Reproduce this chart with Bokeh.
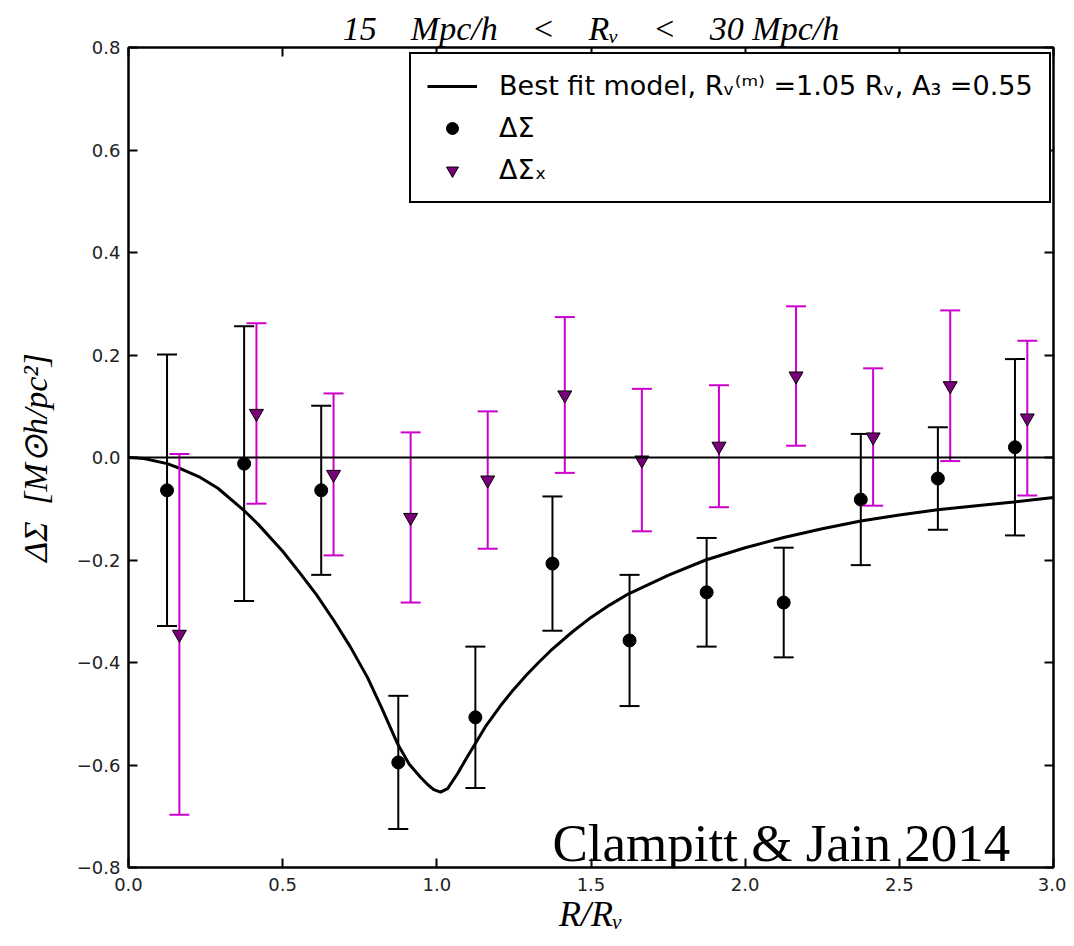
from bokeh.plotting import figure
from bokeh.models import (ColumnDataSource, Span, Label, Legend, LegendItem, LinearAxis,
                          FixedTicker, CustomJSTickFormatter, Range1d)
from bokeh.embed import file_html
from bokeh.resources import INLINE

# ---------------- data ----------------
r_ds = [0.125, 0.375, 0.625, 0.875, 1.125, 1.375, 1.625, 1.875, 2.125, 2.375, 2.625, 2.875]
ds = [-0.064, -0.012, -0.064, -0.595, -0.507, -0.207, -0.357, -0.263, -0.283, -0.082, -0.041, 0.020]
ds_err = [0.265, 0.268, 0.165, 0.130, 0.138, 0.131, 0.128, 0.106, 0.107, 0.128, 0.100, 0.172]

r_dsx = [0.165, 0.415, 0.665, 0.915, 1.165, 1.415, 1.665, 1.915, 2.165, 2.415, 2.665, 2.915]
dsx = [-0.345, 0.086, -0.033, -0.117, -0.044, 0.122, -0.005, 0.022, 0.159, 0.040, 0.140, 0.077]
dsx_err = [0.352, 0.176, 0.158, 0.166, 0.134, 0.152, 0.139, 0.119, 0.136, 0.134, 0.147, 0.151]

r_model = [0.0, 0.05, 0.125, 0.17, 0.233, 0.29, 0.374, 0.42, 0.5, 0.558, 0.61, 0.666, 0.72,
           0.775, 0.82, 0.872, 0.91, 0.947, 0.97, 0.99, 1.012, 1.035, 1.067, 1.095, 1.125,
           1.16, 1.207, 1.25, 1.29, 1.33, 1.369, 1.44, 1.5, 1.56, 1.622, 1.75, 1.872,
           2.0, 2.125, 2.25, 2.375, 2.5, 2.624, 2.75, 2.871, 3.0]
ds_model = [0.0, -0.002, -0.012, -0.022, -0.039, -0.060, -0.103, -0.130, -0.183, -0.227,
            -0.268, -0.318, -0.370, -0.429, -0.487, -0.558, -0.598, -0.624, -0.638, -0.648,
            -0.653, -0.646, -0.617, -0.588, -0.558, -0.523, -0.484, -0.452, -0.425, -0.400,
            -0.377, -0.340, -0.312, -0.288, -0.266, -0.230, -0.200, -0.176, -0.156, -0.139,
            -0.124, -0.112, -0.102, -0.094, -0.087, -0.078]

x_ticks = [0.0, 0.5, 1.0, 1.5, 2.0, 2.5, 3.0]
y_ticks = [-0.8, -0.6, -0.4, -0.2, 0.0, 0.2, 0.4, 0.6, 0.8]

GAP = "\u2003"
title_text = "15" + GAP + "Mpc/h" + GAP + "<" + GAP + "R\u1d65" + GAP + "<" + GAP + "30 Mpc/h"
xlabel = "R/R\u1d65"
ylabel = "\u0394\u03a3\u2002[M\u2299h/pc\u00b2]"
legend_labels = ["Best fit model, R\u1d65\u207d\u1d50\u207e =1.05 R\u1d65, A\u2083 =0.55",
                 "\u0394\u03a3", "\u0394\u03a3\u2093"]
credit = "Clampitt & Jain 2014"

# ---------------- sources ----------------
src_ds = ColumnDataSource(dict(
    x=r_ds, y=ds,
    lo=[v - e for v, e in zip(ds, ds_err)],
    hi=[v + e for v, e in zip(ds, ds_err)]))
src_dsx = ColumnDataSource(dict(
    x=r_dsx, y=dsx,
    lo=[v - e for v, e in zip(dsx, dsx_err)],
    hi=[v + e for v, e in zip(dsx, dsx_err)]))
src_model = ColumnDataSource(dict(x=r_model, y=ds_model))

# ---------------- figure ----------------
p = figure(frame_width=925, frame_height=820,
           min_border_left=128, min_border_right=13, min_border_top=47, min_border_bottom=71,
           x_range=Range1d(0, 3), y_range=Range1d(-0.8, 0.8),
           output_backend="svg", toolbar_location=None, title=title_text)
p.background_fill_color = "white"
p.border_fill_color = "white"
p.outline_line_color = "black"
p.outline_line_width = 2
p.outline_line_alpha = 1.0
p.grid.visible = False

p.title.align = "center"
p.title.text_font = "Liberation Serif"
p.title.text_font_style = "italic"
p.title.text_font_size = "34px"
p.title.text_color = "black"
p.title.standoff = 2

minus_fmt = CustomJSTickFormatter(code="return tick.toFixed(1).replace('-', '\u2212');")
blank_fmt = CustomJSTickFormatter(code="return '';")

def style_axis(ax):
    ax.axis_line_color = "black"
    ax.axis_line_width = 2
    ax.major_tick_in = 9
    ax.major_tick_out = 0
    ax.major_tick_line_width = 2
    ax.major_tick_line_color = "black"
    ax.minor_tick_line_color = None
    ax.major_label_text_font = "DejaVu Sans"
    ax.major_label_text_font_size = "18px"
    ax.major_label_text_color = "#222222"
    ax.axis_label_text_font = "Liberation Serif"
    ax.axis_label_text_font_style = "italic"
    ax.axis_label_text_font_size = "34px"
    ax.axis_label_text_color = "black"

p.xaxis.ticker = FixedTicker(ticks=x_ticks)
p.yaxis.ticker = FixedTicker(ticks=y_ticks)
p.xaxis.formatter = minus_fmt
p.yaxis.formatter = minus_fmt
style_axis(p.xaxis[0])
style_axis(p.yaxis[0])
p.xaxis.axis_label = xlabel
p.yaxis.axis_label = ylabel
p.xaxis.axis_label_text_font_size = "36px"
p.xaxis.major_label_standoff = 10
p.yaxis.major_label_standoff = 8
p.xaxis.axis_label_standoff = 0
p.yaxis.axis_label_standoff = 20

top_ax = LinearAxis(ticker=FixedTicker(ticks=x_ticks), formatter=blank_fmt)
right_ax = LinearAxis(ticker=FixedTicker(ticks=y_ticks), formatter=blank_fmt)
for ax in (top_ax, right_ax):
    style_axis(ax)
    ax.major_label_standoff = 0
p.add_layout(top_ax, "above")
p.add_layout(right_ax, "right")

# zero line
p.add_layout(Span(location=0, dimension="width", line_color="black", line_width=2))

# model curve
model_r = p.line("x", "y", source=src_model, line_color="black", line_width=3)

# error bars: black
p.segment(x0="x", y0="lo", x1="x", y1="hi", source=src_ds, line_color="black", line_width=2)
p.scatter("x", "lo", source=src_ds, marker="dash", size=20, line_color="black", line_width=2)
p.scatter("x", "hi", source=src_ds, marker="dash", size=20, line_color="black", line_width=2)
ds_pt = p.scatter("x", "y", source=src_ds, marker="circle", size=13,
                  fill_color="black", line_color="black")

# error bars: magenta
MAG = "#cc00cc"
p.segment(x0="x", y0="lo", x1="x", y1="hi", source=src_dsx, line_color=MAG, line_width=2)
p.scatter("x", "lo", source=src_dsx, marker="dash", size=20, line_color=MAG, line_width=2)
p.scatter("x", "hi", source=src_dsx, marker="dash", size=20, line_color=MAG, line_width=2)
dsx_pt = p.scatter("x", "y", source=src_dsx, marker="inverted_triangle", size=14,
                   fill_color="#7a007a", line_color="black", line_width=1)

# credit label
p.add_layout(Label(x=1.375, y=-0.752, text=credit, text_font="Liberation Serif",
                   text_font_size="53px", text_color="black", text_baseline="alphabetic"))

# legend
legend = Legend(items=[LegendItem(label=legend_labels[0], renderers=[model_r]),
                       LegendItem(label=legend_labels[1], renderers=[ds_pt]),
                       LegendItem(label=legend_labels[2], renderers=[dsx_pt])],
                location=(281, 664))
legend.border_line_color = "black"
legend.border_line_width = 2
legend.border_line_alpha = 1.0
legend.background_fill_color = "white"
legend.background_fill_alpha = 1.0
legend.label_text_font = "DejaVu Sans"
legend.label_text_font_size = "27px"
legend.label_text_color = "black"
legend.glyph_width = 50
legend.glyph_height = 30
legend.label_height = 30
legend.spacing = 11
legend.padding = 16
legend.label_standoff = 22
legend.margin = 0
p.add_layout(legend)

open("out.html", "w").write(file_html(p, INLINE))
